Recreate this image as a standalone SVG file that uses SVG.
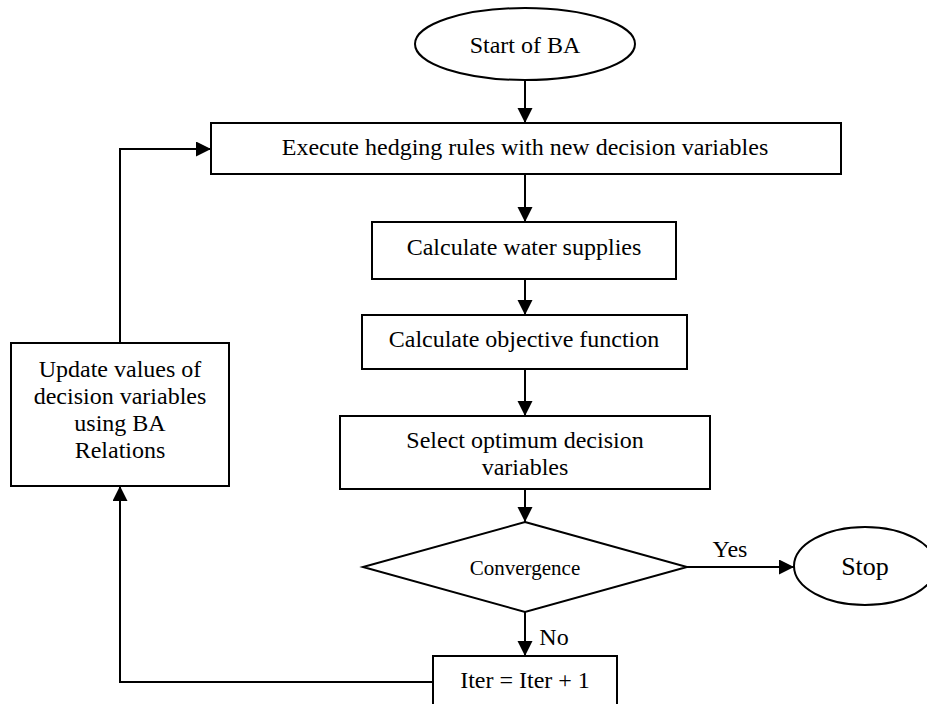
<svg xmlns="http://www.w3.org/2000/svg" width="927" height="704" viewBox="0 0 927 704">
<style>
.box{fill:#fff;stroke:#000;stroke-width:2}
.ln{fill:none;stroke:#000;stroke-width:2}
text{font-family:"Liberation Serif","Times New Roman",serif;font-size:24px;fill:#000;text-anchor:middle}
.sm{font-size:21px}
.lg{font-size:26px}
</style>
<defs>
<marker id="ah" markerUnits="userSpaceOnUse" markerWidth="16" markerHeight="16" refX="15" refY="7.5" orient="auto">
<path d="M0,0 L15,7.5 L0,15 z" fill="#000"/>
</marker>
</defs>
<rect width="927" height="704" fill="#fff"/>
<g id="connectors">
<path class="ln" d="M525,80 V123" marker-end="url(#ah)"/>
<path class="ln" d="M525,174 V222" marker-end="url(#ah)"/>
<path class="ln" d="M525,279 V315" marker-end="url(#ah)"/>
<path class="ln" d="M525,369 V416" marker-end="url(#ah)"/>
<path class="ln" d="M525,489 V522" marker-end="url(#ah)"/>
<path class="ln" d="M687,567 H794" marker-end="url(#ah)"/>
<path class="ln" d="M525,612 V656" marker-end="url(#ah)"/>
<path class="ln" d="M433,682 H120 V486" marker-end="url(#ah)"/>
<path class="ln" d="M120,343 V149 H211" marker-end="url(#ah)"/>
<text x="730" y="557">Yes</text>
<text x="554" y="645">No</text>
</g>
<g id="start">
<ellipse class="box" cx="525" cy="44" rx="110" ry="36"/>
<text x="525" y="53">Start of BA</text>
</g>
<g id="execute">
<rect class="box" x="211" y="123" width="630" height="51"/>
<text x="525" y="155">Execute hedging rules with new decision variables</text>
</g>
<g id="water">
<rect class="box" x="372" y="222" width="304" height="57"/>
<text x="524" y="255">Calculate water supplies</text>
</g>
<g id="objective">
<rect class="box" x="362" y="315" width="325" height="54"/>
<text x="524" y="347">Calculate objective function</text>
</g>
<g id="select">
<rect class="box" x="340" y="416" width="370" height="73"/>
<text x="525" y="448">Select optimum decision</text>
<text x="525" y="475">variables</text>
</g>
<g id="convergence">
<polygon class="box" points="525,522 687,567 525,612 363,567"/>
<text class="sm" x="525" y="575">Convergence</text>
</g>
<g id="stop">
<ellipse class="box" cx="865" cy="566" rx="71" ry="39"/>
<text class="lg" x="865" y="575">Stop</text>
</g>
<g id="iter">
<rect class="box" x="433" y="656" width="184" height="60"/>
<text x="525" y="688">Iter = Iter + 1</text>
</g>
<g id="update">
<rect class="box" x="11" y="343" width="218" height="143"/>
<text x="120" y="377">Update values of</text>
<text x="120" y="404">decision variables</text>
<text x="120" y="431">using BA</text>
<text x="120" y="458">Relations</text>
</g>
</svg>
